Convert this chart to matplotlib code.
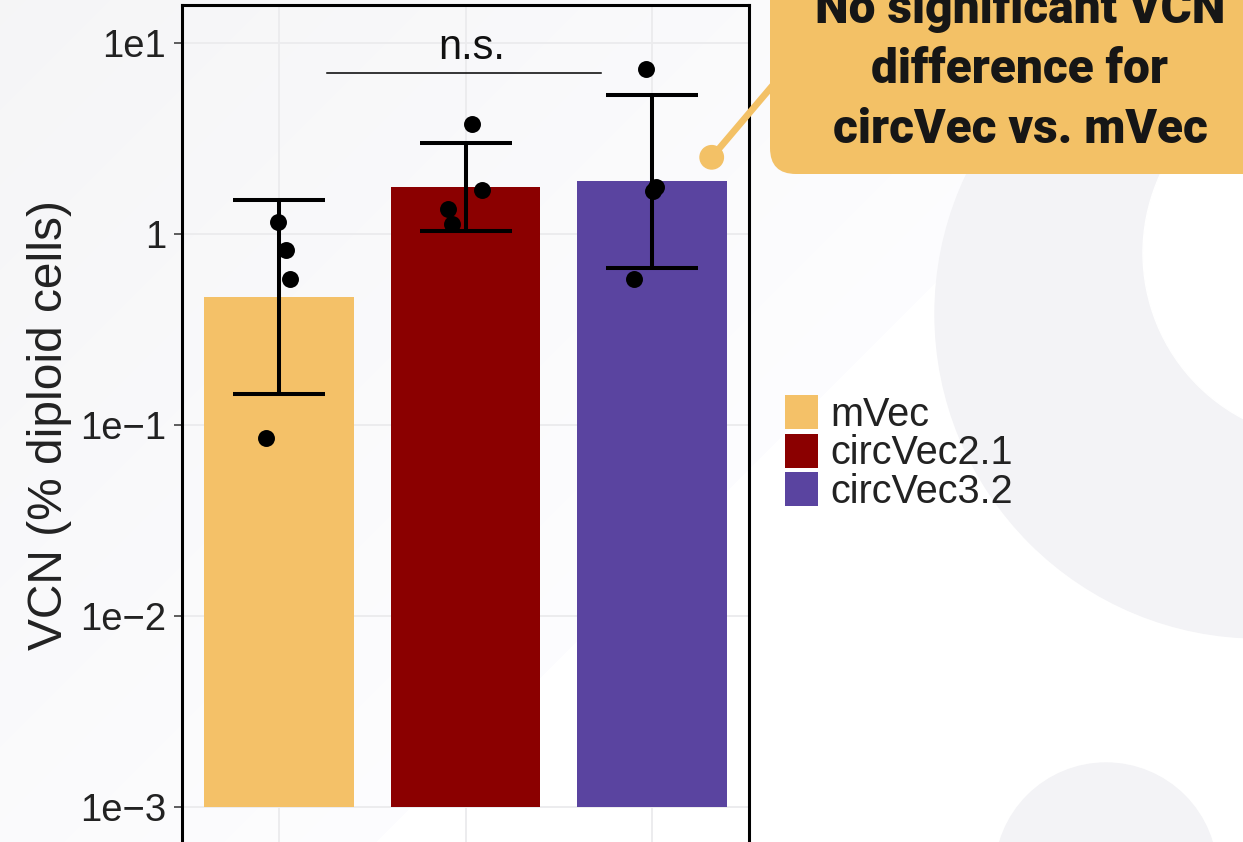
import matplotlib.pyplot as plt
import numpy as np
from matplotlib.patches import Circle, FancyBboxPatch

# VCN per replicate (% diploid cells)
groups = ['mVec', 'circVec2.1', 'circVec3.2']
colors = ['#F4C168', '#8B0000', '#5A44A0']
vcn = [
    [1.156, 0.822, 0.577, 0.0855],
    [3.73, 1.69, 1.35, 1.12],
    [7.28, 1.76, 1.67, 0.579],
]
# horizontal jitter of the replicate dots
jitter = [
    [-0.004, 0.036, 0.058, -0.070],
    [0.036, 0.086, -0.095, -0.075],
    [-0.031, 0.024, 0.007, -0.094],
]
ytick_vals = [1e-3, 1e-2, 1e-1, 1, 10]
ytick_labels = ['1e\u22123', '1e\u22122', '1e\u22121', '1', '1e1']
callout = 'No significant VCN\ndifference for\ncircVec vs. mVec'

plt.rcParams['font.family'] = ['Liberation Sans', 'DejaVu Sans']

# geometric mean and geometric SD of each group
logs = [np.log10(v) for v in vcn]
gmean = np.array([10 ** l.mean() for l in logs])
glo = np.array([10 ** (l.mean() - l.std(ddof=1)) for l in logs])
ghi = np.array([10 ** (l.mean() + l.std(ddof=1)) for l in logs])

W, H = 1243, 842
fig = plt.figure(figsize=(W / 100, H / 100), dpi=100)

# slide background: soft diagonal shading plus light decorative circles
bg = fig.add_axes([0, 0, 1, 1], zorder=-2)
bg.set_xlim(0, W)
bg.set_ylim(H, 0)
bg.axis('off')
xx, yy = np.meshgrid(np.arange(W), np.arange(H))
s = xx + yy
v = np.where(s < 1218, 0.962 + 0.03 * s / 1218, 1.0)
shade = np.dstack([v, v, np.minimum(v + 0.006, 1.0)])
bg.imshow(shade, extent=(0, W, H, 0), aspect='auto', zorder=0)
bg.add_patch(Circle((1259, 314), 324, color='#f3f3f6', zorder=1))
bg.add_patch(Circle((1330, 253), 187, color='white', zorder=2))
bg.add_patch(Circle((1106, 874), 111, color='#f3f3f6', zorder=1))

# main panel
ax = fig.add_axes([182 / W, (H - 844.8) / H, 567 / W, 839.8 / H])
ax.set_facecolor('none')
ax.set_yscale('log')
x = np.arange(len(groups))
for i, g in enumerate(groups):
    ax.bar(x[i], gmean[i] - 1e-3, bottom=1e-3, width=0.8,
           color=colors[i], label=g, zorder=2)
ax.errorbar(x, gmean, yerr=[gmean - glo, ghi - gmean], fmt='none',
            ecolor='black', elinewidth=2.9, capsize=33, capthick=2.9, zorder=3)
for i in range(len(groups)):
    ax.scatter(x[i] + np.array(jitter[i]), vcn[i], s=12.2 ** 2,
               color='black', linewidths=0, zorder=4)

# significance bracket
ax.plot([0.258, 1.727], [6.92, 6.92], color='black', lw=1.1, zorder=3)
ax.text(1.033, 8.2, 'n.s.', ha='center', va='baseline', fontsize=30,
        color='#111111')

ax.set_xlim(-0.52, 2.52)
ax.set_ylim(10 ** -3.2, 10 ** 1.197)
ax.set_xticks(x)
ax.set_yticks(ytick_vals)
ax.set_yticklabels(ytick_labels)
ax.minorticks_off()
ax.tick_params(axis='x', labelbottom=False, length=0)
ax.tick_params(axis='y', length=5.5, width=1.1, color='#333333',
               labelsize=27.5, labelcolor='#222222', pad=6)
ax.grid(True, color='#ebebed', lw=1.3, zorder=0)
ax.set_axisbelow(True)
for sp in ax.spines.values():
    sp.set_linewidth(2.2)
    sp.set_color('black')
ax.set_ylabel('VCN (% diploid cells)', fontsize=34.5, color='#222222')
ax.yaxis.set_label_coords(-0.194, 0.5)

ax.legend(loc='upper left', bbox_to_anchor=(785 / W, 1 - 395 / H),
          bbox_transform=fig.transFigure, frameon=False, fontsize=28.5,
          handlelength=0.84, handleheight=0.95, handletextpad=0.3,
          labelspacing=0.0, borderpad=0, borderaxespad=0,
          labelcolor='#222222')

# callout bubble
ov = fig.add_axes([0, 0, 1, 1], zorder=5)
ov.set_xlim(0, W)
ov.set_ylim(H, 0)
ov.axis('off')
ov.patch.set_alpha(0)
ov.plot([711.7, 790], [157.3, 65], color='#F3C166', lw=4.8,
        solid_capstyle='round', zorder=1)
ov.add_patch(Circle((711.7, 157.3), 11.7, color='#F3C166', zorder=1))
ov.add_patch(FancyBboxPatch((770, -60), 520, 234,
                            boxstyle='round,pad=0,rounding_size=26',
                            fc='#F3C166', ec='none', zorder=2))
ov.text(1020, 143, callout, ha='center', va='baseline', ma='center',
        fontsize=34.5, fontweight='heavy', family='Roboto', color='#161616',
        linespacing=1.39, zorder=3)

fig.savefig('out.png', dpi=100)
